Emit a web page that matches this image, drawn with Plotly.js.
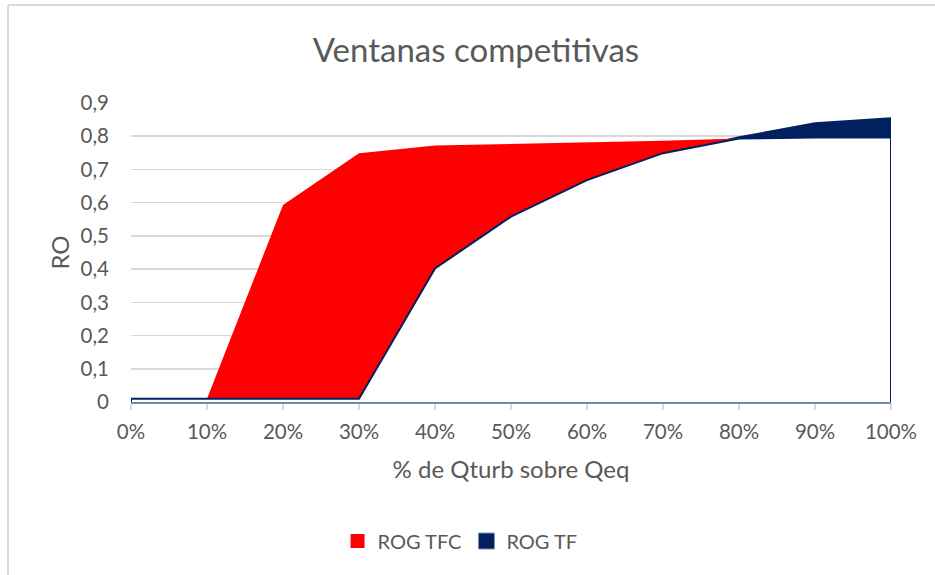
<!DOCTYPE html>
<html>
<head>
<meta charset="utf-8">
<script src="https://cdn.plot.ly/plotly-3.0.1.min.js"></script>
<style>html,body{margin:0;padding:0;background:#fff;}#chart{width:935px;height:575px;}</style>
</head>
<body>
<div id="chart"></div>
<script>
// Data
const xPos = [0, 10, 20, 30, 40, 50, 60, 70, 80, 90, 100];
const xLabels = ['0%', '10%', '20%', '30%', '40%', '50%', '60%', '70%', '80%', '90%', '100%'];
const rogTFC = [0.01, 0.01, 0.593, 0.749, 0.772, 0.776, 0.781, 0.786, 0.793, 0.796, 0.796];
const rogTF = [0.01, 0.01, 0.01, 0.01, 0.402, 0.558, 0.668, 0.749, 0.800, 0.842, 0.857];
const seriesNames = ['ROG TFC', 'ROG TF'];

const RED = '#FF0000';
const NAVY = '#002060';
const FONT = 'Lato, "Open Sans", sans-serif';
const GREY = '#595959';

// lower envelope of both series: white overlay with navy outline
const lowEnv = rogTF.map((v, i) => Math.min(v, rogTFC[i]));
const last = xPos.length - 1;
const envFillX = xPos.concat([xPos[last], xPos[0], xPos[0]]);
const envFillY = lowEnv.concat([0, 0, lowEnv[0]]);
const envLineX = [xPos[0]].concat(xPos, [xPos[last]]);
const envLineY = [0].concat(lowEnv, [0]);

const traces = [
  {x: xPos, y: rogTF, type: 'scatter', mode: 'lines', fill: 'tozeroy',
   fillcolor: NAVY, line: {width: 0, color: NAVY}, showlegend: false, hoverinfo: 'skip'},
  {x: xPos, y: rogTFC, type: 'scatter', mode: 'lines', fill: 'tozeroy',
   fillcolor: RED, line: {width: 0, color: RED}, showlegend: false, hoverinfo: 'skip'},
  {x: envFillX, y: envFillY, type: 'scatter', mode: 'lines', fill: 'toself',
   fillcolor: '#FFFFFF', line: {width: 0, color: '#FFFFFF'}, showlegend: false, hoverinfo: 'skip'},
  {x: envLineX, y: envLineY, type: 'scatter', mode: 'lines',
   line: {width: 2, color: NAVY}, showlegend: false, hoverinfo: 'skip', cliponaxis: false},
  {x: [null], y: [null], type: 'scatter', mode: 'markers', name: seriesNames[0],
   marker: {symbol: 'square', size: 14, color: RED}},
  {x: [null], y: [null], type: 'scatter', mode: 'markers', name: seriesNames[1],
   marker: {symbol: 'square', size: 16, color: NAVY, line: {width: 1, color: '#7F8FB0'}}}
];

const layout = {
  width: 935, height: 575,
  margin: {l: 131, r: 44, t: 103, b: 173},
  paper_bgcolor: '#FFFFFF', plot_bgcolor: '#FFFFFF',
  font: {family: FONT, color: GREY, size: 20},
  separators: ',.',
  title: {text: 'Ventanas competitivas', x: 0.509, xanchor: 'center', y: 0.913, yanchor: 'middle',
          font: {family: FONT, size: 33, color: GREY}},
  xaxis: {
    range: [0, 100], tickvals: xPos, ticktext: xLabels,
    showgrid: false, zeroline: false,
    showline: true, linecolor: '#7488AE', linewidth: 2,
    ticks: 'outside', ticklen: 6, tickcolor: '#D9D9D9', tickwidth: 1.5,
    ticklabelstandoff: 4,
    tickfont: {family: FONT, size: 20.5, color: GREY},
    title: {text: '% de Qturb sobre Qeq', standoff: 20, font: {family: FONT, size: 24, color: GREY}},
    fixedrange: true
  },
  yaxis: {
    range: [0, 0.9], dtick: 0.1, tick0: 0,
    showgrid: true, gridcolor: '#D9D9D9', gridwidth: 1.5,
    zeroline: false, showline: false, ticks: '',
    tickfont: {family: FONT, size: 20.5, color: GREY},
    ticklabelstandoff: 21,
    title: {text: 'RO', standoff: 4, font: {family: FONT, size: 24, color: GREY}},
    fixedrange: true
  },
  showlegend: true,
  legend: {orientation: 'h', x: 0.433, xanchor: 'center', y: -0.465, yanchor: 'middle',
           font: {family: FONT, size: 20, color: GREY}, itemwidth: 30,
           bgcolor: 'rgba(0,0,0,0)'},
  shapes: [
    {type: 'line', xref: 'paper', yref: 'paper', x0: -0.1618, x1: 1.2, y0: 1.3278, y1: 1.3278,
     line: {color: '#D9D9D9', width: 2}},
    {type: 'line', xref: 'paper', yref: 'paper', x0: -0.1618, x1: -0.1618, y0: -0.6, y1: 1.3278,
     line: {color: '#D9D9D9', width: 2}}
  ]
};

Plotly.newPlot('chart', traces, layout, {staticPlot: true, displayModeBar: false});
</script>
</body>
</html>
